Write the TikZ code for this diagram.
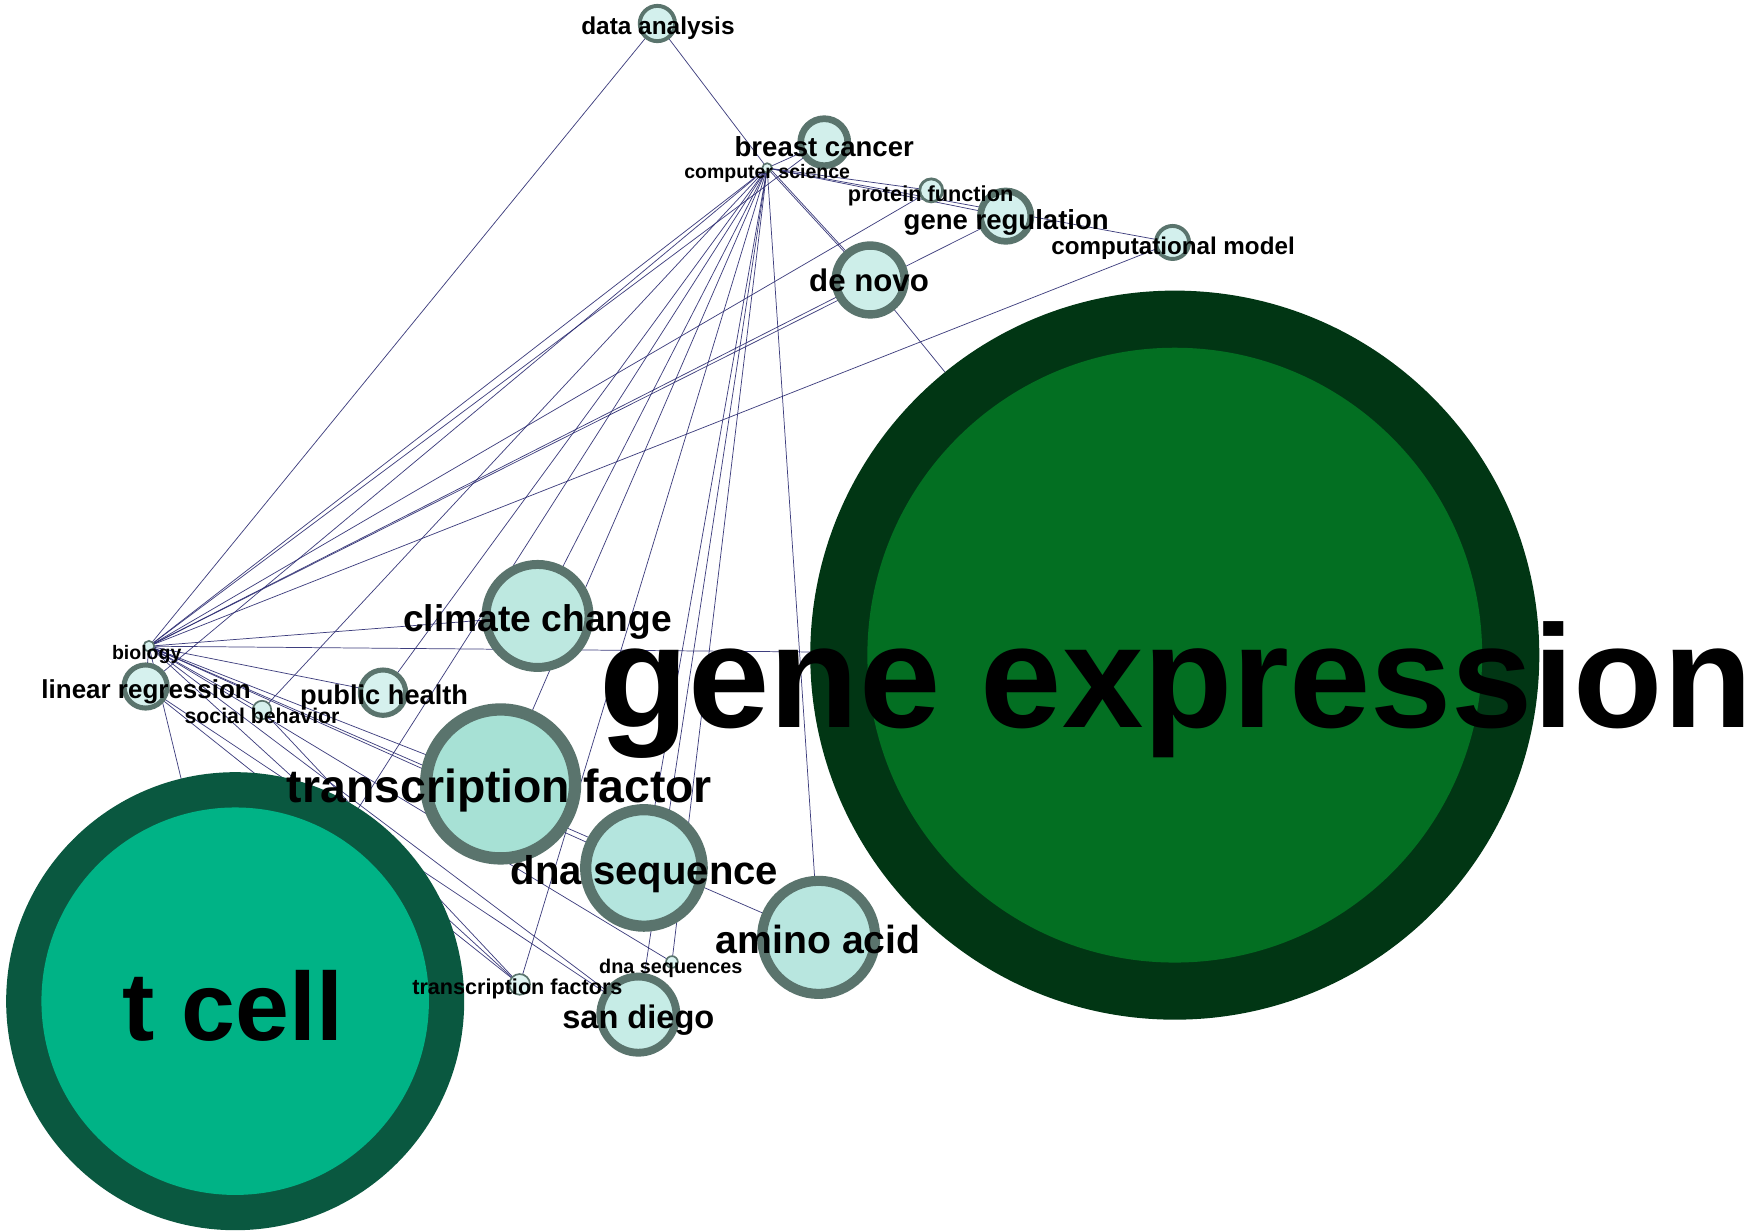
\documentclass[tikz,border=0pt]{standalone}
\usepackage{fontspec}
\setmainfont{Liberation Sans}
\pgfdeclarelayer{paper}
\pgfdeclarelayer{edges}
\pgfsetlayers{paper,edges,main}
\definecolor{ringc}{HTML}{5A746D}
\definecolor{edgec}{HTML}{2A2A70}
\definecolor{geouter}{HTML}{013614}
\definecolor{geinner}{HTML}{036F22}
\definecolor{tcouter}{HTML}{0A5840}
\definecolor{tcinner}{HTML}{00B386}
% keyword node: name, x, y, outer radius, ring width, fill colour (hex)
\newcommand\kwnode[6]{%
  \definecolor{fill-#1}{HTML}{#6}%
  \node[kw, line width=#5pt, fill=fill-#1, minimum size={(2*#4-#5)*1pt}] (#1) at (#2,#3) {};}
% keyword label: name, centre x, baseline y, font size, text
\newcommand\kwlabel[5]{%
  \node[lbl, font=\fontsize{#4}{#4}\selectfont\bfseries] (#1) at (#2,#3) {#5};}
\begin{document}
\begin{tikzpicture}[x=1pt,y=-1pt,
  kw/.style={circle, draw=ringc, inner sep=0pt},
  lbl/.style={anchor=base, inner sep=0pt, text=black},
  link/.style={draw=edgec, line width=0.65pt, draw opacity=0.9}]
\useasboundingbox (0,0) rectangle (1568,1100);
\begin{pgfonlayer}{paper}
  \fill[white] (0,0) rectangle (1568,1100);
\end{pgfonlayer}

% large hubs
\node[circle, inner sep=0pt, fill=geouter, minimum size=651pt] (ge) at (1049,585) {};
\node[circle, inner sep=0pt, fill=geinner, minimum size=549pt] (ge-core) at (1049,585) {};
\node[circle, inner sep=0pt, fill=tcouter, minimum size=409pt] (tc) at (210,894) {};
\node[circle, inner sep=0pt, fill=tcinner, minimum size=346pt] (tc-core) at (210,894) {};

% keyword circles
\kwnode{da}{587}{21}{17.5}{3.5}{D3F0ED}
\kwnode{bc}{736}{127}{24}{6}{D2EFEB}
\kwnode{cs}{685}{150}{5}{1.5}{E0F5F2}
\kwnode{pf}{831.5}{170}{11.5}{2.5}{D6F1EE}
\kwnode{gr}{898}{193}{25.5}{6}{D3F0ED}
\kwnode{cm}{1047}{216.5}{16.5}{3.5}{D3F0ED}
\kwnode{dn}{777}{250}{34.5}{7.5}{CDEEE9}
\kwnode{cc}{480}{550}{50}{8}{BDE8E0}
\kwnode{bio}{133}{577}{5.5}{1.5}{D8F2EF}
\kwnode{lr}{130}{613}{21.5}{4.5}{D6F1EE}
\kwnode{sb}{234}{634}{9}{1.5}{D6F1EE}
\kwnode{ph}{342}{618.5}{22.5}{4.5}{D6F1EE}
\kwnode{tf}{447}{700}{72}{11}{A7E1D5}
\kwnode{ds}{575}{775}{57}{10}{B4E5DE}
\kwnode{aa}{731}{837}{55}{9}{B8E6DF}
\kwnode{dss}{600}{859}{6}{1.5}{D8F2EF}
\kwnode{tfs}{464}{879}{10}{1.5}{E0F5F2}
\kwnode{sd}{570}{906}{37.5}{7}{C6ECE6}

% connectors
\begin{pgfonlayer}{edges}
  \foreach \t in {da,bc,pf,gr,cm,dn,bio,lr,sb,ph,cc,tf,tc,tfs,ds,sd,dss,aa}
    \draw[link] (cs.center) -- (\t.center);
  \draw[link] ([xshift=2pt]cs.center) -- ([xshift=2pt]dn.center);
  \foreach \t in {da,bc,pf,dn,gr,cm,cc,ge,ph,sb,tf,ds,aa,dss,sd,tfs,tc,lr}
    \draw[link] (bio.center) -- (\t.center);
  \draw[link] (dn.center) -- (ge.center);
  \draw[link] (lr.center) -- (sd.center);
  \draw[link] (lr.center) -- (tfs.center);
  \draw[link] (sb.center) -- (tfs.center);
\end{pgfonlayer}

% labels
\kwlabel{l-da}{587.5}{31}{21.8}{data analysis}
\kwlabel{l-bc}{736}{140}{24.6}{breast cancer}
\kwlabel{l-cs}{685}{159}{17.4}{computer science}
\kwlabel{l-pf}{831}{180}{19.4}{protein function}
\kwlabel{l-gr}{898.5}{205}{24.6}{gene regulation}
\kwlabel{l-cm}{1047.5}{227}{21.6}{computational model}
\kwlabel{l-dn}{776}{260}{27.9}{de novo}
\kwlabel{l-ge}{1050}{650}{130.5}{gene expression}
\kwlabel{l-cc}{480}{564}{33.2}{climate change}
\kwlabel{l-bio}{131}{589}{17.4}{biology}
\kwlabel{l-lr}{130.5}{624}{23.2}{linear regression}
\kwlabel{l-sb}{234}{646}{19.0}{social behavior}
\kwlabel{l-ph}{343}{629}{24.3}{public health}
\kwlabel{l-tf}{446}{717}{41.4}{transcription factor}
\kwlabel{l-ds}{575.5}{790}{35.8}{dna sequence}
\kwlabel{l-aa}{730.5}{851}{35.0}{amino acid}
\kwlabel{l-dss}{599}{869}{17.7}{dna sequences}
\kwlabel{l-tfs}{462}{888}{19.3}{transcription factors}
\kwlabel{l-sd}{570}{918}{29.1}{san diego}
\kwlabel{l-tc}{208}{929}{86.5}{t cell}
\end{tikzpicture}
\end{document}
